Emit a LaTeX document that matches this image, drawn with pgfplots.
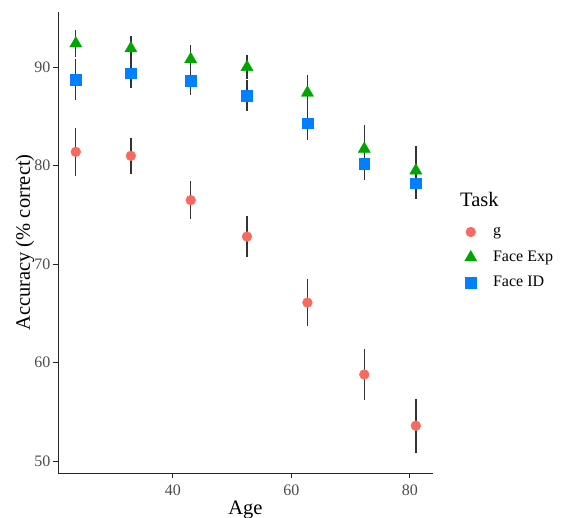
\documentclass[border=0pt]{standalone}
\usepackage{pgfplots}
\pgfplotsset{compat=1.18}
\usepackage{fontspec}
\setmainfont{Liberation Serif}
\usepackage{xcolor}

\definecolor{gcol}{HTML}{F8695F}
\definecolor{expcol}{HTML}{00A600}
\definecolor{idcol}{HTML}{0080FF}
\definecolor{tickgray}{HTML}{4D4D4D}

\begin{document}
\begin{tikzpicture}
\path[use as bounding box] (-58bp,-45bp) rectangle (505bp,473bp);
\begin{axis}[
  at={(0,0)}, anchor=south west,
  scale only axis,
  width=375bp, height=461bp,
  xmin=20.6, xmax=83.9,
  ymin=48.8, ymax=95.6,
  xtick={40,60,80},
  ytick={50,60,70,80,90},
  axis lines*=left,
  axis line style={black!85, line width=0.9bp},
  tick align=outside,
  major tick length=5bp,
  tick style={black!85, line width=0.9bp},
  ticklabel style={font=\fontsize{16bp}{18bp}\selectfont, text=tickgray},
  y tick label style={xshift=1bp},
  x tick label style={yshift=-3bp},
  /pgf/number format/assume math mode=true,
  xlabel={Age},
  ylabel={Accuracy (\% correct)},
  every axis x label/.style={at={(axis description cs:0.5,0)}, anchor=base, yshift=-41bp, font=\fontsize{20.5bp}{22bp}\selectfont},
  every axis y label/.style={at={(axis description cs:-0.0880,0.5)}, rotate=90, anchor=center, font=\fontsize{20.5bp}{22bp}\selectfont},
  legend style={at={(1.084,0.4675)}, anchor=west, draw=none, fill=none,
    font=\fontsize{16bp}{18bp}\selectfont, inner sep=0pt,
    nodes={text height=11.5bp, text depth=3.5bp, inner sep=5.25bp},
    /tikz/every odd column/.append style={column sep=11bp}},
  legend cell align=left,
  error bars/error bar style={black!80, line width=1.4bp},
  error bars/error mark=none,
  clip=false,
]

\addplot[only marks, mark=*, mark size=4.9bp, color=gcol,
  error bars/.cd, y dir=both, y explicit]
  coordinates {
  (23.6,81.4) +- (0,2.45)
  (32.9,81.0) +- (0,1.85)
  (43.0,76.5) +- (0,1.9)
  (52.5,72.8) +- (0,2.05)
  (62.7,66.1) +- (0,2.4)
  (72.3,58.8) +- (0,2.6)
  (81.0,53.6) +- (0,2.75)
};
\addlegendentry{g}

\addplot[only marks, mark=triangle*, mark size=7bp, color=expcol,
  error bars/.cd, y dir=both, y explicit]
  coordinates {
  (23.6,92.4) +- (0,1.35)
  (32.9,91.9) +- (0,1.25)
  (43.0,90.8) +- (0,1.4)
  (52.5,90.0) +- (0,1.25)
  (62.7,87.4) +- (0,1.8)
  (72.3,81.7) +- (0,2.4)
  (81.0,79.5) +- (0,2.5)
};
\addlegendentry{Face Exp}

\addplot[only marks, mark=square*, mark size=5.3bp, color=idcol,
  error bars/.cd, y dir=both, y explicit]
  coordinates {
  (23.6,88.75) +- (0,2.1)
  (32.9,89.4) +- (0,1.5)
  (43.0,88.6) +- (0,1.4)
  (52.5,87.1) +- (0,1.6)
  (62.7,84.3) +- (0,1.7)
  (72.3,80.2) +- (0,1.7)
  (81.0,78.2) +- (0,1.6)
};
\addlegendentry{Face ID}

\end{axis}
\node[anchor=west, font=\fontsize{20.5bp}{22bp}\selectfont, inner sep=0pt] at (402bp,274bp) {Task};
\end{tikzpicture}
\end{document}
